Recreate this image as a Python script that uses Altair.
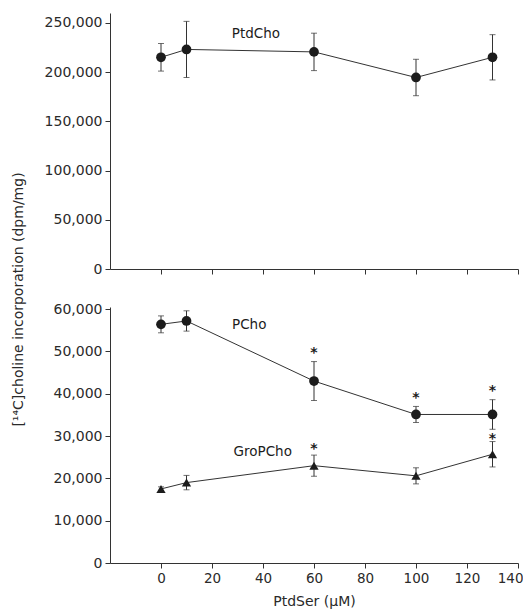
import altair as alt
import pandas as pd

# ---- data ----
ptdser = [0, 10, 60, 100, 130]

ptdcho = [215000, 223000, 220500, 194500, 215000]
ptdcho_err = [14000, 28500, 19000, 18500, 23000]

pcho = [56400, 57200, 43000, 35100, 35100]
pcho_err = [2000, 2400, 4600, 1900, 3500]

gropcho = [17500, 19000, 23000, 20600, 25700]
gropcho_err = [500, 1700, 2500, 1900, 3000]

star_x = [60, 100, 130, 60, 130]
star_y = [50500, 39900, 41700, 28000, 30200]

label_text_top = ["PtdCho"]
label_x_top = [37.2]
label_y_top = [238800]

label_text_bot = ["PCho", "GroPCho"]
label_x_bot = [34.6, 39.9]
label_y_bot = [56240, 26240]

x_ticks = [0, 20, 40, 60, 80, 100, 120, 140]
y_ticks_top = [0, 50000, 100000, 150000, 200000, 250000]
y_ticks_bot = [0, 10000, 20000, 30000, 40000, 50000, 60000]

FONT = "DejaVu Sans"
INK = "#1c1c1c"
LINE = "#333333"

W = 408
H = 256


def series_df(vals, errs, name):
    return pd.DataFrame({
        "x": ptdser,
        "y": vals,
        "lo": [v - e for v, e in zip(vals, errs)],
        "hi": [v + e for v, e in zip(vals, errs)],
        "series": name,
    })


top_df = series_df(ptdcho, ptdcho_err, "PtdCho")
pcho_df = series_df(pcho, pcho_err, "PCho")
gro_df = series_df(gropcho, gropcho_err, "GroPCho")

xscale = alt.Scale(domain=[-20, 140], nice=False, zero=False)


def series_layers(df, yscale, yaxis, xaxis, shape):
    base = alt.Chart(df).encode(
        x=alt.X("x:Q", scale=xscale, axis=xaxis),
    )
    line = base.mark_line(color=LINE, strokeWidth=1).encode(
        y=alt.Y("y:Q", scale=yscale, axis=yaxis)
    )
    rule = base.mark_rule(color=LINE, strokeWidth=1).encode(
        y=alt.Y("lo:Q", scale=yscale), y2="hi:Q"
    )
    cap_lo = base.mark_tick(orient="horizontal", color=LINE, size=6, thickness=1).encode(
        y=alt.Y("lo:Q", scale=yscale)
    )
    cap_hi = base.mark_tick(orient="horizontal", color=LINE, size=6, thickness=1).encode(
        y=alt.Y("hi:Q", scale=yscale)
    )
    pts = base.mark_point(shape=shape, filled=True, color=INK, opacity=1,
                          size=95 if shape == "circle" else 85).encode(
        y=alt.Y("y:Q", scale=yscale)
    )
    return [line, rule, cap_lo, cap_hi, pts]


# ---- top panel ----
yscale_top = alt.Scale(domain=[0, 260000], nice=False)
yaxis_top = alt.Axis(
    values=y_ticks_top, format=",d",
    title="[¹⁴C]choline incorporation (dpm/mg)",
    titleX=-85, titleY=286, titleAngle=270,
)
xaxis_top = alt.Axis(values=x_ticks, labels=False, title=None)

top_labels = alt.Chart(pd.DataFrame({
    "x": label_x_top, "y": label_y_top, "t": label_text_top
})).mark_text(font=FONT, fontSize=13.5, color=INK, baseline="middle", align="center").encode(
    x=alt.X("x:Q", scale=xscale), y=alt.Y("y:Q", scale=yscale_top), text="t:N"
)

top = alt.layer(
    *series_layers(top_df, yscale_top, yaxis_top, xaxis_top, "circle"),
    top_labels,
).properties(width=W, height=H)

# ---- bottom panel ----
yscale_bot = alt.Scale(domain=[0, 60500], nice=False)
yaxis_bot = alt.Axis(values=y_ticks_bot, format=",d", title=None)
xaxis_bot = alt.Axis(values=x_ticks, title="PtdSer (μM)", format="d",
                     labelFontSize=13.5, labelFlush=True, labelFlushOffset=5)

bot_labels = alt.Chart(pd.DataFrame({
    "x": label_x_bot, "y": label_y_bot, "t": label_text_bot
})).mark_text(font=FONT, fontSize=13.5, color=INK, baseline="middle", align="center").encode(
    x=alt.X("x:Q", scale=xscale), y=alt.Y("y:Q", scale=yscale_bot), text="t:N"
)

stars = alt.Chart(pd.DataFrame({"x": star_x, "y": star_y, "t": ["*"] * len(star_x)})).mark_text(
    font=FONT, fontSize=14, fontWeight="bold", color=INK, baseline="alphabetic", dy=8
).encode(
    x=alt.X("x:Q", scale=xscale), y=alt.Y("y:Q", scale=yscale_bot), text="t:N"
)

bottom = alt.layer(
    *series_layers(pcho_df, yscale_bot, yaxis_bot, xaxis_bot, "circle"),
    *series_layers(gro_df, yscale_bot, yaxis_bot, xaxis_bot, "triangle-up"),
    bot_labels,
    stars,
).properties(width=W, height=H)

chart = alt.vconcat(top, bottom, spacing=38, bounds="flush").properties(
    padding={"left": 3, "top": 5, "right": 0, "bottom": 0},
    background="white",
).configure_view(stroke=None).configure_axis(
    grid=False,
    domainColor=LINE,
    tickColor=LINE,
    domainWidth=1,
    tickWidth=1,
    tickSize=5,
    labelFont=FONT,
    labelFontSize=14,
    labelColor="#2a2a2a",
    labelPadding=3,
    labelFlush=False,
    labelOverlap=False,
    titleFont=FONT,
    titleFontSize=14,
    titleFontWeight="normal",
    titleColor="#2a2a2a",
    titlePadding=10,
)

chart.save("out.html", embed_options={"renderer": "svg", "actions": False})
